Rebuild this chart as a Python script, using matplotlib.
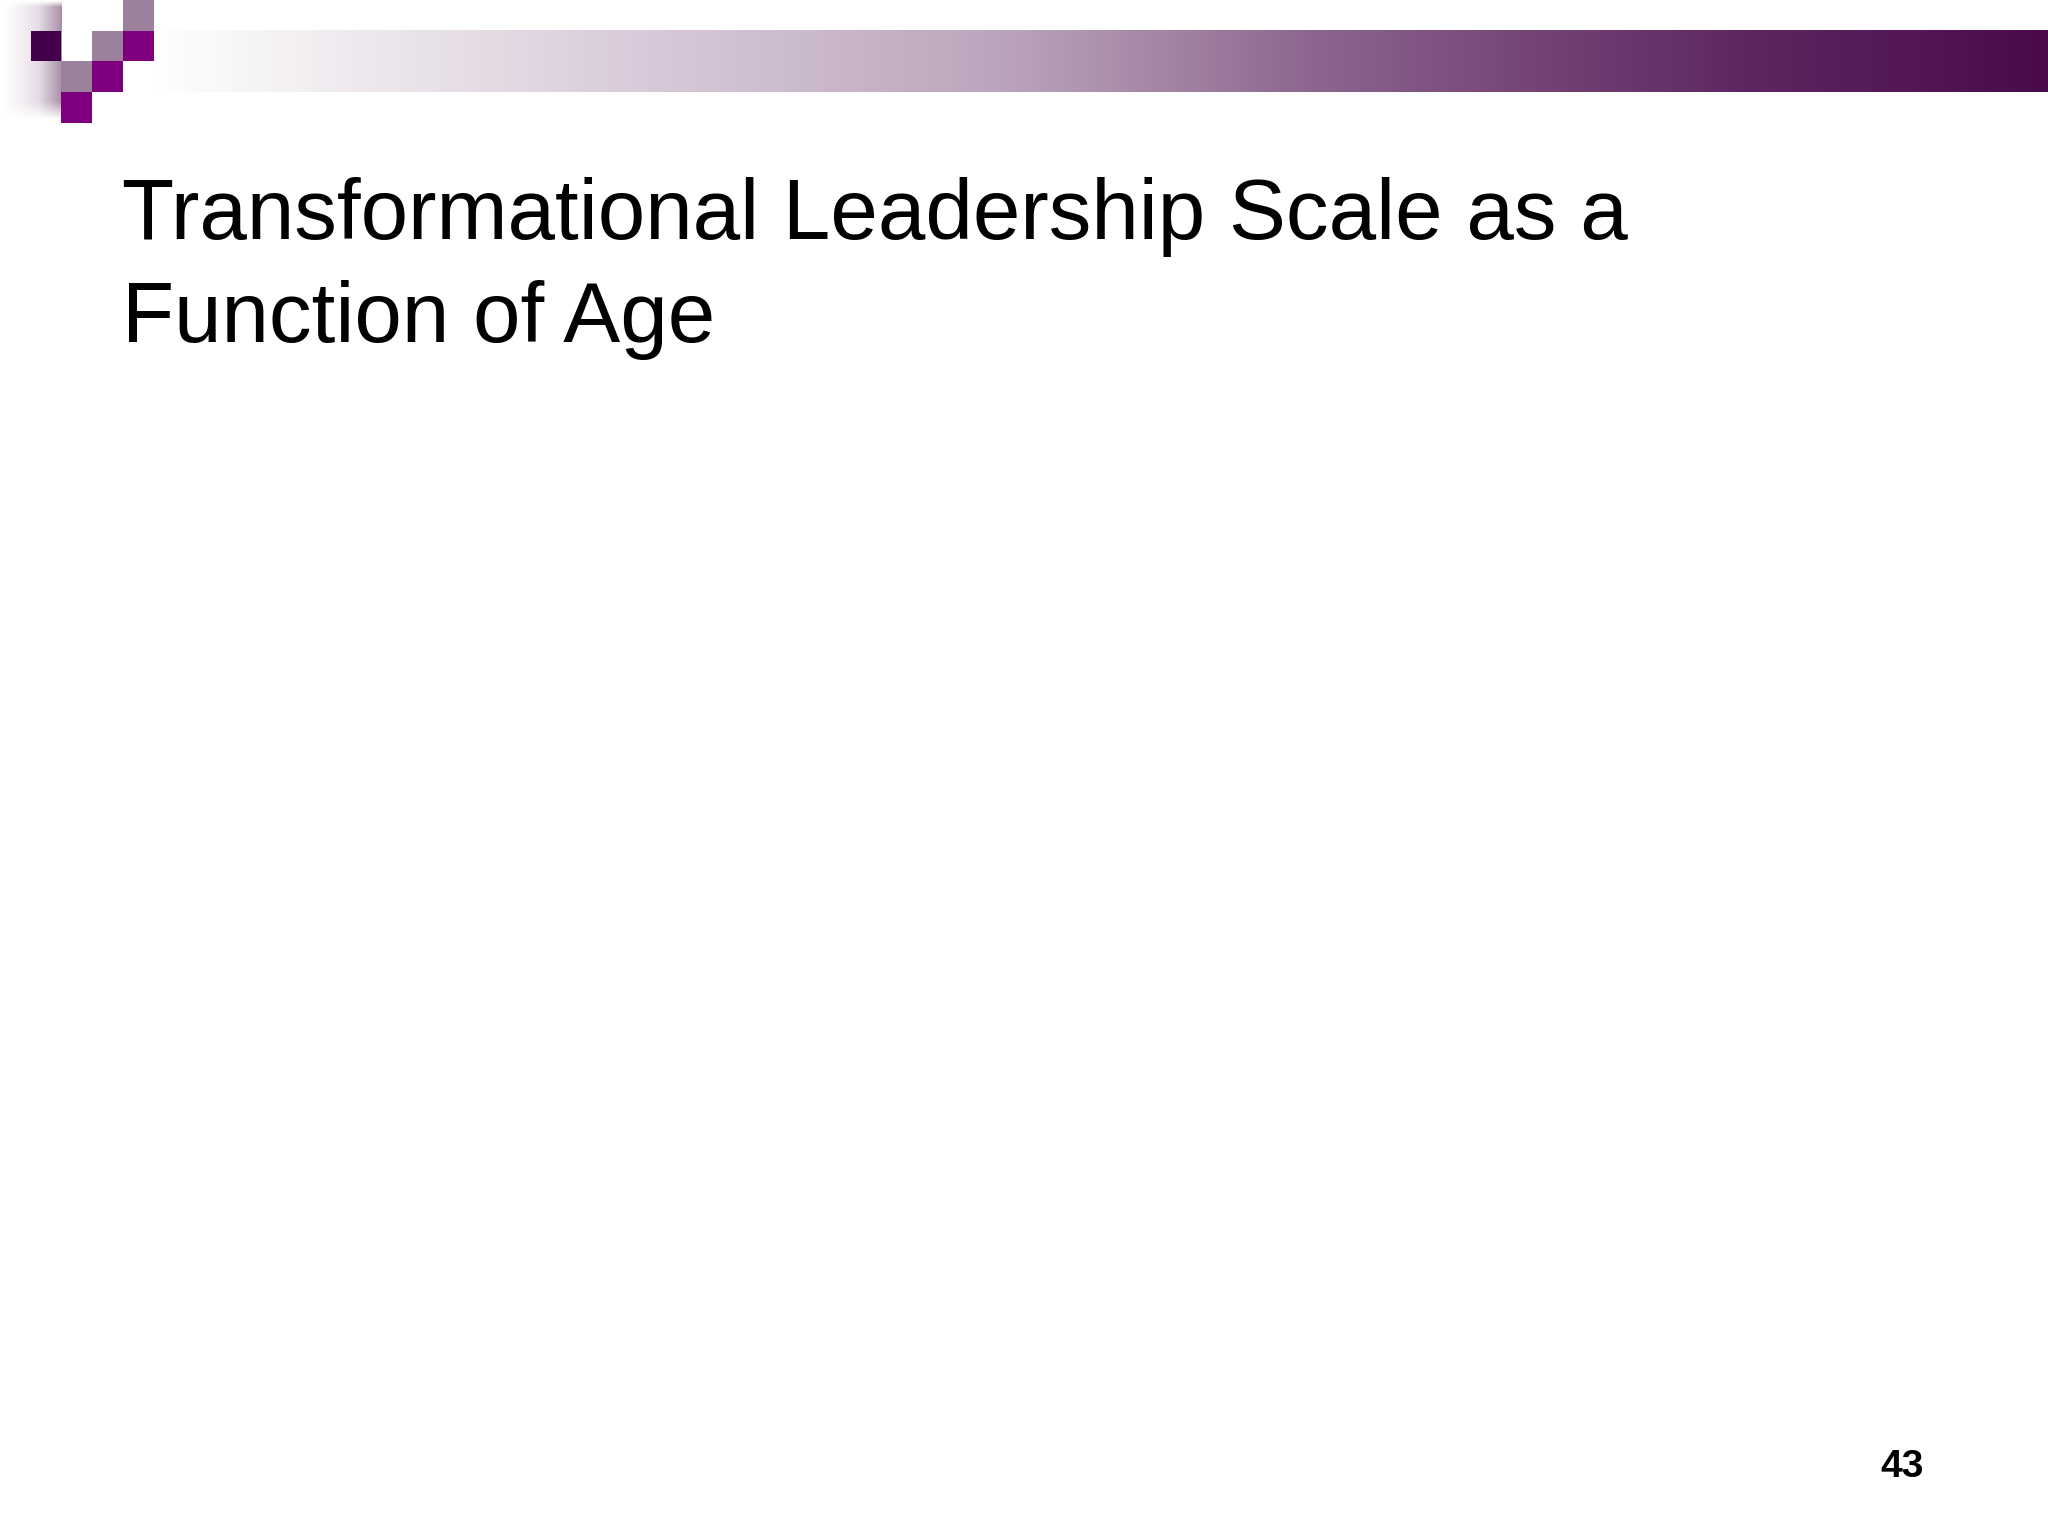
import numpy as np
import matplotlib
matplotlib.use("Agg")
import matplotlib.pyplot as plt
from matplotlib.colors import LinearSegmentedColormap, to_rgb
from matplotlib.patches import Rectangle

# slide text
title_lines = ["Transformational Leadership Scale as a", "Function of Age"]
page_number = "43"

# decorative squares in the top-left corner (col, row, colour)
square_cells = [(4, 0, "#9c819c"), (1, 1, "#42004a"), (3, 1, "#9c819c"),
                (4, 1, "#7f007f"), (2, 2, "#9c819c"), (3, 2, "#7f007f"),
                (2, 3, "#7f007f")]
cell = 30.7

# gradient of the top bar: (x position in px, colour)
bar_stops = [(153, "#ffffff"), (400, "#ebe4ea"), (700, "#d4c4d6"),
             (1000, "#bba5bc"), (1150, "#a688a6"), (1300, "#8e6890"),
             (1450, "#7e5080"), (1600, "#6e3a70"), (1750, "#5e2660"),
             (1900, "#541858"), (2048, "#4a0a4c")]

W, H = 2048, 1536
fig = plt.figure(figsize=(W / 100, H / 100), dpi=100)
ax = fig.add_axes([0, 0, 1, 1])
ax.set_xlim(0, W)
ax.set_ylim(H, 0)
ax.axis("off")

# top bar
xs = np.array([s[0] for s in bar_stops], dtype=float)
cols = np.array([to_rgb(s[1]) for s in bar_stops])
grid = np.linspace(153, W, 800)
rgb = np.stack([np.interp(grid, xs, cols[:, k]) for k in range(3)], axis=-1)
ax.imshow(rgb[np.newaxis, :, :], extent=[153, W, 92, 30], aspect="auto",
          interpolation="bilinear", zorder=1)

# soft vertical strip on the far left
strip_x = np.linspace(0, 1, 100)
strip_cm = LinearSegmentedColormap.from_list("strip", ["#ffffff", "#e6dde6", "#a990a9"])
strip = strip_cm(strip_x ** 1.4)
yy = np.linspace(0, 1, 60)
fade = np.clip(np.minimum(yy / 0.05, (1 - yy) / 0.15), 0, 1)
strip_img = np.repeat(strip[np.newaxis, :, :], 60, axis=0)
strip_img[:, :, 3] = fade[:, np.newaxis]
ax.imshow(strip_img, extent=[0, 62, 120, 0], aspect="auto",
          interpolation="bilinear", zorder=1)

for col, row, colour in square_cells:
    ax.add_patch(Rectangle((col * cell, row * cell), cell, cell,
                           facecolor=colour, edgecolor="none", zorder=2))

# title
for i, line in enumerate(title_lines):
    ax.text(122, 239 + i * 103, line, fontsize=61.5, family="Liberation Sans",
            color="black", ha="left", va="baseline")

ax.text(1924, 1477, page_number, fontsize=28, family="Liberation Sans",
        fontweight="bold", color="black", ha="right", va="baseline")

fig.savefig("out.png", dpi=100)
